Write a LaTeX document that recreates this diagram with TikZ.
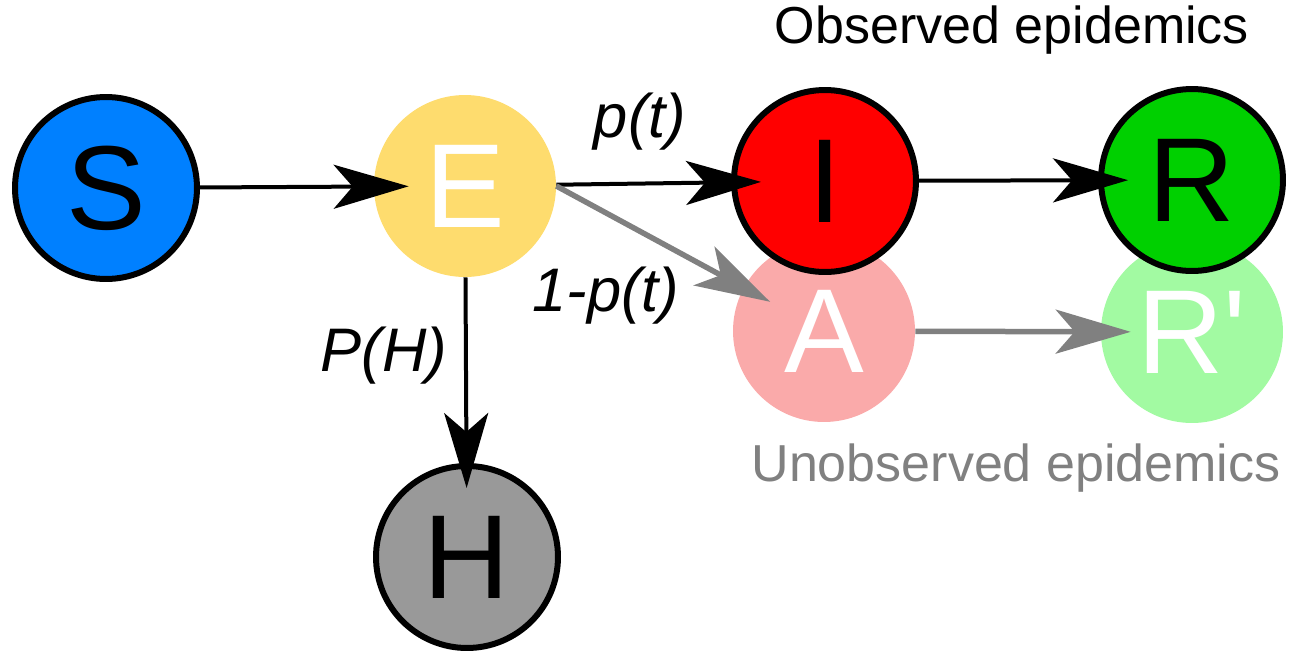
\documentclass[tikz,border=0pt]{standalone}
\usepackage{fontspec}
\newfontfamily\dgfont{Liberation Sans}
\usepackage{tikz}
\usetikzlibrary{arrows.meta}
\definecolor{sblue}{RGB}{0,128,255}
\definecolor{eyellow}{RGB}{254,220,110}
\definecolor{ired}{RGB}{255,0,0}
\definecolor{rgreen}{RGB}{0,208,0}
\definecolor{apink}{RGB}{250,170,170}
\definecolor{rpgreen}{RGB}{162,250,162}
\definecolor{hgray}{RGB}{153,153,153}
\definecolor{agray}{RGB}{128,128,128}
\tikzset{
  comp/.style={circle,inner sep=0pt,minimum size=3.64cm,
               font=\dgfont\fontsize{68}{70}\selectfont},
  ocomp/.style={comp,draw=black,line width=0.12cm},
  ucomp/.style={comp,text=white},
  arr/.style={-{Stealth[length=1.5cm,width=0.88cm,inset=0.38cm]},
              line width=0.08cm,shorten >=-0.6cm},
  garr/.style={arr,draw=agray,line width=0.11cm},
  lbl/.style={font=\dgfont\itshape\fontsize{35}{40}\selectfont},
  ttl/.style={font=\dgfont\fontsize{29.6}{32}\selectfont},
}
\begin{document}
\begin{tikzpicture}[x=0.02cm,y=-0.02cm]
\useasboundingbox (0,0) rectangle (1295,653);
% unobserved compartments go under the observed ones
\node[ucomp,fill=apink]   (A)  at (824,331) {A};
\node[ucomp,fill=rpgreen] (Rp) at (1192,332) {R'};
\node[ocomp,fill=sblue]   (S)  at (106,188) {S};
\node[ucomp,fill=eyellow] (E)  at (465,186) {E};
\node[ocomp,fill=ired]    (I)  at (825,181) {I};
\node[ocomp,fill=rgreen]  (R)  at (1192,180) {R};
\node[ocomp,fill=hgray]   (H)  at (467,557) {H};
% flows
\draw[arr,shorten >=-0.7cm] (S) -- (E);
\draw[arr] (E) -- (I);
\draw[arr] (I) -- (R);
\draw[garr] (E.east) -- (A);
\draw[garr] (A) -- (Rp);
\draw[arr,shorten >=-0.5cm] (E) -- (H);
% labels
\node[lbl] (pt)  at (640,122) {p(t)};
\node[lbl] (qpt) at (606,296) {1-p(t)};
\node[lbl] (ph)  at (384,356) {P(H)};
\node[ttl] (obs) at (1012,30) {Observed epidemics};
\node[ttl,text=agray] (unobs) at (1016,468) {Unobserved epidemics};
\end{tikzpicture}
\end{document}
